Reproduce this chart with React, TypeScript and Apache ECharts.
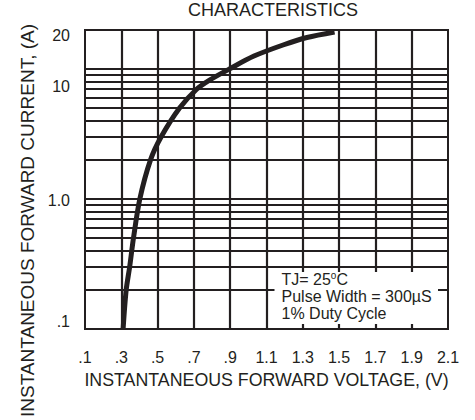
import React, { useEffect, useRef } from "react";
import * as echarts from "echarts";

// Forward characteristic curve (V, A)
const voltage = [0.31, 0.327, 0.346, 0.367, 0.402, 0.461, 0.519, 0.62, 0.715, 0.784, 0.894, 1.031, 1.195, 1.323, 1.475];
const current = [0.1, 0.2, 0.3, 0.5, 1.0, 2, 3, 5, 7, 8.2, 10, 12.6, 15.4, 17.5, 19.3];

// Axis ticks
const xTickValues = [0.1, 0.3, 0.5, 0.7, 0.9, 1.1, 1.3, 1.5, 1.7, 1.9, 2.1];
const xTickLabels = [".1", ".3", ".5", ".7", ".9", "1.1", "1.3", "1.5", "1.7", "1.9", "2.1"];
const yTickValues = [0.1, 1, 10, 20];
const yTickLabels = [".1", "1.0", "10", "20"];

// Grid lines
const xGridValues = [0.3, 0.5, 0.7, 0.9, 1.1, 1.3, 1.5, 1.7, 1.9];
const yGridValues = [0.2, 0.3, 0.4, 0.5, 0.6, 0.7, 0.8, 0.9, 1, 2, 3, 4, 5, 6, 7, 8, 9, 10];

// Note box text and its data-space corners
const noteLines = ["TJ= 25{sup|o}C", "Pulse Width = 300µS", "1% Duty Cycle"];
const noteCornerA = [1.1, 0.3];
const noteCornerB = [2.1, 0.1];

// label style tweaks (vertical nudges of y labels, [padTop, padBottom])
const yLabelPad: Record<string, number[]> = { "20": [10, 0], "10": [34, 0], "1.0": [3, 0], ".1": [0, 14] };

const INK = "#231f20";
const FONT = "'Liberation Sans', Arial, sans-serif";

export default function App() {
  const ref = useRef<HTMLDivElement>(null);
  useEffect(() => {
    if (!ref.current) return;
    const chart = echarts.init(ref.current, undefined, { renderer: "svg" });
    const rich: Record<string, any> = {};
    yTickLabels.forEach((l, i) => {
      const p = yLabelPad[l] || [0, 0];
      rich["y" + i] = { fontSize: 16, color: INK, fontFamily: FONT, padding: [p[0], 0, p[1], 0] };
    });
    const option: any = {
      animation: false,
      backgroundColor: "#fff",
      title: {
        text: "CHARACTERISTICS",
        left: 188,
        top: 1,
        padding: 0,
        textStyle: { fontSize: 18, fontWeight: "normal", color: INK, fontFamily: FONT },
      },
      grid: {
        left: 85,
        right: 27,
        top: 30,
        bottom: 90,
        show: true,
        borderColor: INK,
        borderWidth: 2,
        backgroundColor: "transparent",
      },
      xAxis: {
        type: "value",
        min: 0.1,
        max: 2.1,
        interval: 0.1,
        axisLine: { show: false },
        axisTick: { show: false },
        splitLine: { show: false },
        axisLabel: {
          margin: 21,
          fontSize: 16,
          color: INK,
          fontFamily: FONT,
          formatter: (v: number) => {
            const i = xTickValues.findIndex((t) => Math.abs(t - v) < 1e-6);
            return i >= 0 ? xTickLabels[i] : "";
          },
        },
        name: "INSTANTANEOUS FORWARD VOLTAGE, (V)",
        nameLocation: "middle",
        nameGap: 37,
        nameTextStyle: { fontSize: 17.8, color: INK, fontFamily: FONT },
      },
      yAxis: {
        type: "log",
        logBase: 10,
        min: 0.1,
        max: 20,
        axisLine: { show: false },
        axisTick: { show: false },
        splitLine: { show: false },
        minorSplitLine: { show: false },
        axisLabel: {
          margin: 15,
          showMinLabel: true,
          showMaxLabel: true,
          formatter: (v: number) => {
            const i = yTickValues.findIndex((t) => Math.abs(t - v) / t < 1e-3);
            return i >= 0 ? `{y${i}|${yTickLabels[i]}}` : "";
          },
          rich,
        },
        name: "INSTANTANEOUS FORWARD CURRENT, (A)",
        nameLocation: "middle",
        nameGap: 35,
        nameTextStyle: { fontSize: 19, color: INK, fontFamily: FONT, padding: [0, 82, 0, 0] },
      },
      series: [
        {
          name: "grid",
          type: "line",
          data: [],
          z: 1,
          silent: true,
          markLine: {
            silent: true,
            symbol: ["none", "none"],
            label: { show: false },
            lineStyle: { color: INK, width: 2.2, type: "solid" },
            data: [
              ...yGridValues.map((v) => ({ yAxis: v })),
              ...xGridValues.map((v) => ({ xAxis: v })),
            ],
          },
        },
        {
          name: "IF",
          type: "line",
          z: 5,
          data: voltage.map((v, i) => [v, current[i]]),
          showSymbol: false,
          smooth: 0.3,
          lineStyle: { color: INK, width: 5, cap: "butt" },
        },
      ],
    };
    chart.setOption(option);
    const a = chart.convertToPixel({ gridIndex: 0 }, noteCornerA) as number[];
    const b = chart.convertToPixel({ gridIndex: 0 }, noteCornerB) as number[];
    const bx = a[0] + 8;
    const by = a[1] + 5;
    const bw = b[0] - 10 - bx;
    const bh = b[1] - 5 - by;
    chart.setOption({
      graphic: [
        { type: "rect", z: 100, shape: { x: bx, y: by, width: bw, height: bh }, style: { fill: "#fff" } },
        {
          type: "text",
          z: 101,
          x: bx + 7,
          y: by - 1,
          style: {
            text: noteLines.join("\n"),
            fill: INK,
            fontSize: 16,
            fontFamily: FONT,
            lineHeight: 17,
            verticalAlign: "top",
            rich: {
              sup: { fontSize: 10, fontFamily: FONT, fill: INK, verticalAlign: "top", lineHeight: 10 },
            },
          },
        },
      ],
    });
    return () => chart.dispose();
  }, []);
  return <div ref={ref} style={{ position: "fixed", left: 0, top: 0, width: 475, height: 420 }} />;
}
